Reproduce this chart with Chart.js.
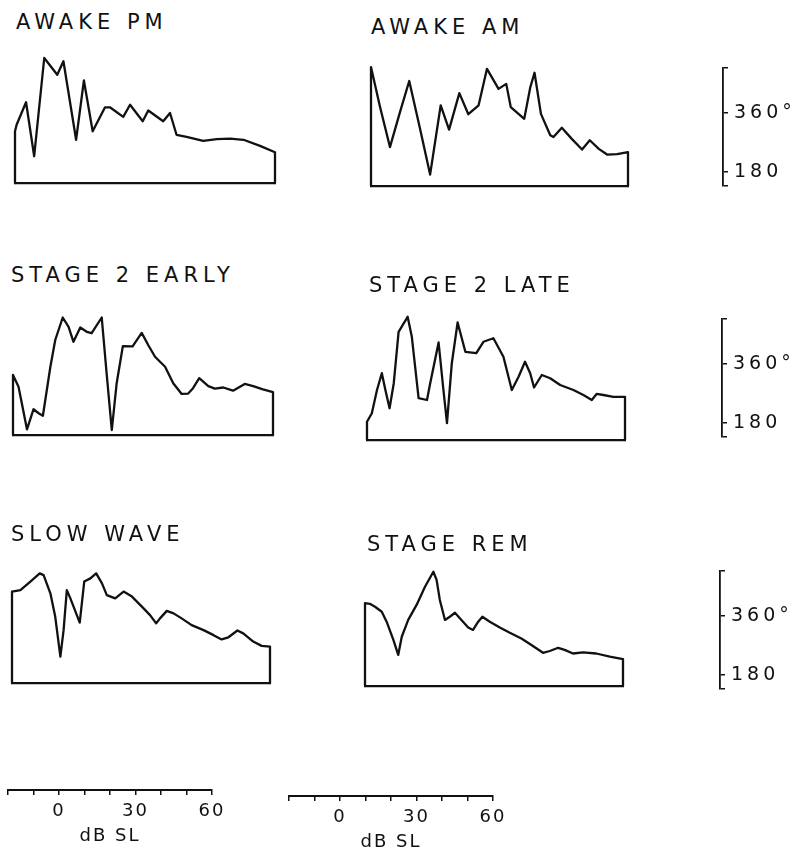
<!DOCTYPE html>
<html>
<head>
<meta charset="utf-8">
<script src="https://cdn.jsdelivr.net/npm/chart.js@4"></script>
<style>
  body { margin: 0; background: #fff; }
  #page { position: relative; width: 800px; height: 853px; overflow: hidden; background: #fff; }
  #page canvas { position: absolute; }
  .title {
    position: absolute;
    font-family: 'DejaVu Sans', sans-serif;
    font-size: 21px;
    line-height: 1;
    letter-spacing: 5px;
    color: #111;
    white-space: nowrap;
  }
</style>
</head>
<body>
<div id="page"></div>
<script>
// stimulus level (dB SL) and phase (degrees)
const awakePmDb = [-20, -19.5, -16.6, -14.1, -11.0, -7.0, -5.1, -1.2, 1.2, 3.9, 7.7, 9.2, 13.3, 15.4, 19.3, 21.0, 25.6, 27.7, 29.7, 32.8, 37.9, 42.1, 46.2, 50.3, 55.4, 60];
const awakePmPhase = [295, 313, 376, 225, 500, 453, 491, 271, 437, 295, 362, 362, 335, 369, 323, 353, 323, 346, 285, 279, 268, 273, 274, 271, 254, 236];

const awakeAmDb = [-20, -17.2, -14.1, -11.0, -8.1, -4.7, -1.6, 1.7, 4.3, 7.5, 10.3, 13.5, 16.1, 19.7, 22.1, 23.5, 27.7, 29.6, 30.9, 32.9, 35.8, 36.8, 39.4, 42.5, 45.7, 48.1, 50.9, 53.5, 56.6, 60];
const awakeAmPhase = [483, 372, 259, 356, 444, 309, 182, 376, 308, 410, 351, 376, 478, 422, 436, 371, 338, 427, 467, 352, 292, 287, 313, 282, 252, 278, 254, 238, 239, 245];

const stage2EarlyDb = [-20, -18.3, -15.7, -13.7, -12.1, -10.8, -8.5, -7.0, -4.7, -2.9, -1.4, 0.7, 2.7, 4.2, 7.3, 8.8, 10.4, 11.9, 13.8, 16.8, 19.6, 21.6, 23.7, 26.8, 29.3, 31.9, 33.9, 35.4, 37.3, 40.1, 42.1, 44.7, 47.7, 51.3, 53.9, 56.9, 60];
const stage2EarlyPhase = [318, 285, 166, 222, 211, 204, 341, 416, 479, 453, 411, 451, 439, 435, 479, 323, 164, 295, 399, 398, 436, 402, 369, 341, 295, 265, 266, 281, 309, 287, 280, 283, 274, 293, 287, 278, 270];

const stage2LateDb = [-20, -18.5, -16.9, -15.4, -14.3, -13.0, -11.7, -10.2, -7.4, -6.1, -4.0, -1.4, -0.4, 2.2, 3.7, 4.8, 6.3, 8.1, 10.5, 13.9, 16.1, 19.2, 22.3, 24.9, 27.0, 29.0, 30.6, 31.8, 34.2, 36.8, 39.9, 44.0, 47.1, 49.7, 51.2, 53.3, 56.4, 60];
const stage2LatePhase = [201, 225, 290, 337, 290, 239, 309, 453, 495, 439, 267, 262, 309, 423, 290, 197, 365, 479, 397, 393, 425, 435, 383, 290, 327, 369, 337, 297, 332, 323, 304, 290, 276, 262, 279, 276, 271, 271];

const slowWaveDb = [-20, -17.4, -14.3, -11.4, -10.2, -8.1, -6.6, -5.0, -4.0, -3.0, -1.9, 1.0, 2.4, 4.3, 6.1, 7.9, 9.4, 12.0, 14.6, 17.2, 20.8, 22.8, 24.7, 25.9, 28.0, 30.1, 32.6, 35.7, 39.4, 42.5, 45.0, 47.1, 49.9, 51.7, 54.8, 57.4, 60];
const slowWavePhase = [406, 410, 434, 457, 452, 401, 336, 224, 298, 410, 387, 319, 434, 443, 457, 429, 396, 387, 406, 392, 359, 340, 317, 331, 352, 345, 331, 312, 298, 284, 272, 278, 297, 289, 266, 254, 252];

const stageRemDb = [-20, -18.5, -16.9, -14.8, -13.3, -11.2, -9.7, -8.6, -6.6, -4.0, -1.4, 1.2, 2.2, 3.2, 4.8, 6.3, 7.9, 9.9, 12.0, 13.5, 15.1, 16.4, 18.7, 21.8, 24.9, 28.5, 31.6, 35.2, 37.3, 39.9, 41.9, 44.5, 47.6, 51.7, 55.9, 60];
const stageRemPhase = [382, 380, 372, 358, 330, 279, 237, 288, 335, 377, 428, 470, 447, 391, 335, 344, 355, 335, 314, 307, 330, 344, 330, 314, 299, 283, 265, 243, 248, 257, 251, 241, 244, 241, 232, 225];

// axis ranges and tick labels
const DB_MIN = -20;
const DB_MAX = 60;
const DB_LABELS = [0, 30, 60];
const PHASE_MIN = 150;
const PHASE_MAX = 542;
const BAR_TICKS = [138, 180, 360, 500];
const BAR_LABELS = ['', '180', '360°', ''];

const INK = '#111';
const DEG_PER_PX = 2.8;
const FONT = "'DejaVu Sans', sans-serif";

const panels = [
    { title: 'AWAKE PM', db: awakePmDb, phase: awakePmPhase, left: 15, right: 275, base: 183, tx: 16, ty: 12 },
    { title: 'AWAKE AM', db: awakeAmDb, phase: awakeAmPhase, left: 371, right: 628, base: 186, tx: 371, ty: 17 },
    { title: 'STAGE 2 EARLY', db: stage2EarlyDb, phase: stage2EarlyPhase, left: 13, right: 273, base: 435, tx: 11, ty: 265 },
    { title: 'STAGE 2 LATE', db: stage2LateDb, phase: stage2LatePhase, left: 367, right: 625, base: 440, tx: 369, ty: 275 },
    { title: 'SLOW WAVE', db: slowWaveDb, phase: slowWavePhase, left: 12, right: 270, base: 683, tx: 11, ty: 524 },
    { title: 'STAGE REM', db: stageRemDb, phase: stageRemPhase, left: 365, right: 623, base: 686, tx: 367, ty: 534 }
];
const phaseBars = [
    { x: 723, top: 62 },
    { x: 722, top: 313 },
    { x: 720, top: 565 }
];
const dbAxes = [
    { left: 8, right: 212, y: 790 },
    { left: 289, right: 493, y: 796 }
];

const page = document.getElementById('page');

// canvas letterSpacing is reset on resize, so set it right before drawing
const spacing = {
    id: 'spacing',
    beforeDraw(chart, args, opts) {
        chart.ctx.letterSpacing = opts.value || '0px';
    }
};

function makeCanvas(x, y, w, h) {
    const cv = document.createElement('canvas');
    cv.width = Math.round(w);
    cv.height = Math.round(h);
    cv.style.left = Math.round(x) + 'px';
    cv.style.top = Math.round(y) + 'px';
    cv.style.width = Math.round(w) + 'px';
    cv.style.height = Math.round(h) + 'px';
    page.appendChild(cv);
    return cv;
}

function drawPanel(p) {
    const pad = 6;
    const h = (PHASE_MAX - PHASE_MIN) / DEG_PER_PX;
    const cv = makeCanvas(p.left - pad, p.base - h - pad, p.right - p.left + 2 * pad, h + 2 * pad);

    // curve closed down to the baseline at both ends
    const pts = p.db.map((x, i) => ({ x: x, y: p.phase[i] }));
    pts.unshift({ x: DB_MIN, y: PHASE_MIN });
    pts.push({ x: DB_MAX, y: PHASE_MIN });

    new Chart(cv, {
        type: 'line',
        data: {
            datasets: [{
                data: pts,
                borderColor: INK,
                borderWidth: 2.3,
                borderJoinStyle: 'round',
                borderCapStyle: 'round',
                pointRadius: 0,
                tension: 0,
                fill: false,
                clip: pad
            }]
        },
        options: {
            responsive: false,
            animation: false,
            layout: { padding: pad },
            plugins: { legend: { display: false }, tooltip: { enabled: false } },
            scales: {
                x: {
                    type: 'linear', min: DB_MIN, max: DB_MAX,
                    ticks: { display: false },
                    grid: { display: false, drawTicks: false },
                    border: { color: INK, width: 2.3 }
                },
                y: { type: 'linear', min: PHASE_MIN, max: PHASE_MAX, display: false }
            }
        }
    });

    const t = document.createElement('div');
    t.className = 'title';
    t.textContent = p.title;
    t.style.left = p.tx + 'px';
    t.style.top = p.ty + 'px';
    page.appendChild(t);
}

function drawDbAxis(a) {
    const padL = 6, padR = 18, padT = 2, areaH = 8, axisH = 57;
    const cv = makeCanvas(a.left - padL, a.y - areaH - padT, a.right - a.left + padL + padR, padT + areaH + axisH);
    new Chart(cv, {
        type: 'line',
        data: { datasets: [] },
        plugins: [spacing],
        options: {
            responsive: false,
            animation: false,
            layout: { padding: { left: padL, right: padR, top: padT, bottom: 0 } },
            plugins: { legend: { display: false }, tooltip: { enabled: false }, spacing: { value: '2px' } },
            scales: {
                x: {
                    type: 'linear', position: 'bottom', min: DB_MIN, max: DB_MAX,
                    afterFit: s => { s.height = axisH; },
                    ticks: {
                        stepSize: 10, autoSkip: false, maxRotation: 0, padding: 6,
                        color: INK, font: { family: FONT, size: 18 },
                        callback: v => DB_LABELS.includes(v) ? String(v) : ''
                    },
                    grid: { drawOnChartArea: false, tickLength: 5, color: INK, lineWidth: 1.5 },
                    border: { color: INK, width: 2 },
                    title: {
                        display: true, text: 'dB SL', color: INK,
                        font: { family: FONT, size: 18 },
                        padding: { top: 5, bottom: 0 }
                    }
                },
                y: { display: false, min: 0, max: 1 }
            }
        }
    });
}

function drawPhaseBar(b) {
    const areaW = 10, axisW = 75, padV = 12;
    const h = (BAR_TICKS[BAR_TICKS.length - 1] - BAR_TICKS[0]) / DEG_PER_PX;
    const cv = makeCanvas(b.x - areaW, b.top - padV, areaW + axisW, h + 2 * padV);
    new Chart(cv, {
        type: 'line',
        data: { datasets: [] },
        plugins: [spacing],
        options: {
            responsive: false,
            animation: false,
            layout: { padding: { left: 0, right: 0, top: padV, bottom: padV } },
            plugins: { legend: { display: false }, tooltip: { enabled: false }, spacing: { value: '4px' } },
            scales: {
                x: { display: false, min: 0, max: 1 },
                y: {
                    type: 'linear', position: 'right',
                    min: BAR_TICKS[0], max: BAR_TICKS[BAR_TICKS.length - 1],
                    afterBuildTicks: s => { s.ticks = BAR_TICKS.map(v => ({ value: v })); },
                    afterFit: s => { s.width = axisW; },
                    ticks: {
                        autoSkip: false, padding: 6, color: INK,
                        font: { family: FONT, size: 19 },
                        callback: (v, i) => BAR_LABELS[i]
                    },
                    grid: { drawOnChartArea: false, tickLength: 5, color: INK, lineWidth: 1.5 },
                    border: { color: INK, width: 1.8 }
                }
            }
        }
    });
}

panels.forEach(drawPanel);
phaseBars.forEach(drawPhaseBar);
dbAxes.forEach(drawDbAxis);
</script>
</body>
</html>
